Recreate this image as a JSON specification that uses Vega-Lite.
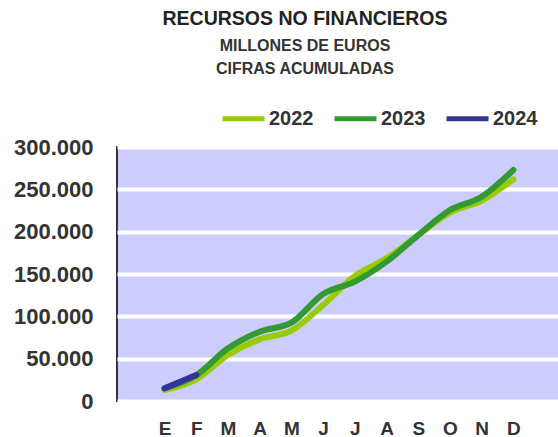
{
  "$schema": "https://vega.github.io/schema/vega-lite/v6.json",
  "autosize": "none",
  "width": 444,
  "height": 254,
  "padding": {"left": 117, "top": 147, "right": 0, "bottom": 36},
  "background": "white",
  "config": {
    "locale": {"number": {"decimal": ",", "thousands": ".", "grouping": [3], "currency": ["", " €"]}},
    "view": {"fill": "#ccccff", "stroke": "#333333", "strokeWidth": 2}
  },
  "title": {
    "text": "RECURSOS NO FINANCIEROS",
    "subtitle": ["MILLONES DE EUROS", "CIFRAS ACUMULADAS"],
    "anchor": "middle",
    "dx": -34,
    "offset": 17,
    "font": "Liberation Sans",
    "fontSize": 19.5,
    "fontWeight": "bold",
    "color": "#222222",
    "subtitleFont": "Liberation Sans",
    "subtitleFontSize": 16,
    "subtitleFontWeight": "bold",
    "subtitleColor": "#333333",
    "subtitleLineHeight": 23,
    "subtitlePadding": 9
  },
  "data": {
    "values": [
      {"mes": 1, "year": "2022", "v": 13000},
      {"mes": 2, "year": "2022", "v": 25600},
      {"mes": 3, "year": "2022", "v": 54300},
      {"mes": 4, "year": "2022", "v": 72800},
      {"mes": 5, "year": "2022", "v": 83100},
      {"mes": 6, "year": "2022", "v": 113400},
      {"mes": 7, "year": "2022", "v": 147600},
      {"mes": 8, "year": "2022", "v": 168500},
      {"mes": 9, "year": "2022", "v": 196000},
      {"mes": 10, "year": "2022", "v": 222500},
      {"mes": 11, "year": "2022", "v": 236600},
      {"mes": 12, "year": "2022", "v": 261800},
      {"mes": 1, "year": "2023", "v": 15000},
      {"mes": 2, "year": "2023", "v": 30500},
      {"mes": 3, "year": "2023", "v": 62200},
      {"mes": 4, "year": "2023", "v": 81900},
      {"mes": 5, "year": "2023", "v": 92500},
      {"mes": 6, "year": "2023", "v": 126400},
      {"mes": 7, "year": "2023", "v": 141000},
      {"mes": 8, "year": "2023", "v": 164600},
      {"mes": 9, "year": "2023", "v": 196000},
      {"mes": 10, "year": "2023", "v": 225600},
      {"mes": 11, "year": "2023", "v": 241300},
      {"mes": 12, "year": "2023", "v": 272900},
      {"mes": 1, "year": "2024", "v": 15000},
      {"mes": 2, "year": "2024", "v": 30700}
    ]
  },
  "mark": {"type": "line", "interpolate": "monotone", "strokeWidth": 6, "strokeCap": "round", "strokeJoin": "round"},
  "encoding": {
    "x": {
      "field": "mes",
      "type": "quantitative",
      "scale": {"domain": [-0.5, 13.5], "nice": false, "zero": false},
      "axis": {
        "title": null,
        "values": [1, 2, 3, 4, 5, 6, 7, 8, 9, 10, 11, 12],
        "labelExpr": "['E','F','M','A','M','J','J','A','S','O','N','D'][datum.value-1]",
        "grid": false,
        "ticks": false,
        "domain": false,
        "labelPadding": 18,
        "labelFont": "Liberation Sans",
        "labelFontSize": 19,
        "labelFontWeight": "bold",
        "labelColor": "#333333",
        "labelFlush": false,
        "labelOverlap": false
      }
    },
    "y": {
      "field": "v",
      "type": "quantitative",
      "scale": {"domain": [0, 300000], "nice": false},
      "axis": {
        "title": null,
        "values": [0, 50000, 100000, 150000, 200000, 250000, 300000],
        "format": ",d",
        "ticks": false,
        "domain": false,
        "grid": true,
        "gridColor": "#ffffff",
        "gridWidth": 4,
        "labelPadding": 24,
        "labelFont": "Liberation Sans",
        "labelFontSize": 22,
        "labelFontWeight": "bold",
        "labelColor": "#333333"
      }
    },
    "color": {
      "field": "year",
      "type": "nominal",
      "scale": {"domain": ["2022", "2023", "2024"], "range": ["#99cc00", "#339933", "#333399"]},
      "legend": {
        "title": null,
        "orient": "none",
        "legendX": 103,
        "legendY": -52,
        "direction": "horizontal",
        "symbolType": "stroke",
        "symbolSize": 1764,
        "symbolStrokeWidth": 5,
        "labelFont": "Liberation Sans",
        "labelFontSize": 20,
        "labelFontWeight": "bold",
        "labelColor": "#333333",
        "labelOffset": 2,
        "columnSpacing": 12
      }
    }
  }
}
